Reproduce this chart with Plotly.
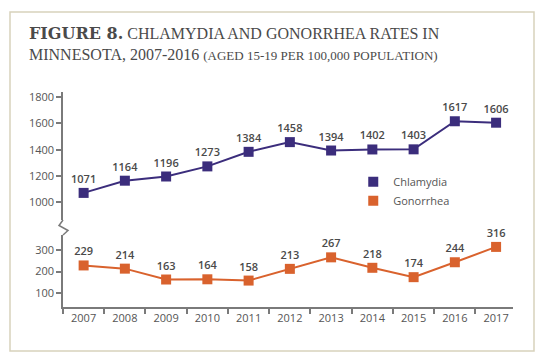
import plotly.graph_objects as go
from plotly.subplots import make_subplots

years = ["2007", "2008", "2009", "2010", "2011", "2012", "2013", "2014", "2015", "2016", "2017"]
chlamydia = [1071, 1164, 1196, 1273, 1384, 1458, 1394, 1402, 1403, 1617, 1606]
gonorrhea = [229, 214, 163, 164, 158, 213, 267, 218, 174, 244, 316]
chl_ticks = [1000, 1200, 1400, 1600, 1800]
gon_ticks = [100, 200, 300]

PURPLE = "#3b2d7c"
ORANGE = "#d9622d"
GRAY = "#555555"
AXIS = "#7a7a7a"
FONT = "Open Sans"

fig = make_subplots(rows=2, cols=1, shared_xaxes=True, vertical_spacing=0.0)

fig.add_trace(go.Scatter(
    x=years, y=chlamydia, mode="lines+markers+text", text=[str(v) for v in chlamydia],
    textposition="top center", textfont=dict(family=FONT, size=11, color="#4a4a4a", weight=600),
    line=dict(color=PURPLE, width=2), marker=dict(symbol="square", size=10, color=PURPLE),
    showlegend=False, cliponaxis=False), row=1, col=1)
fig.add_trace(go.Scatter(
    x=years, y=gonorrhea, mode="lines+markers+text", text=[str(v) for v in gonorrhea],
    textposition="top center", textfont=dict(family=FONT, size=11, color="#4a4a4a", weight=600),
    line=dict(color=ORANGE, width=2), marker=dict(symbol="square", size=10, color=ORANGE),
    showlegend=False, cliponaxis=False), row=2, col=1)

# legend entries
fig.add_trace(go.Scatter(x=[None], y=[None], mode="markers", name="Chlamydia",
                         marker=dict(symbol="square", size=10, color=PURPLE)), row=1, col=1)
fig.add_trace(go.Scatter(x=[None], y=[None], mode="markers", name="Gonorrhea",
                         marker=dict(symbol="square", size=10, color=ORANGE)), row=1, col=1)

tickfont = dict(family=FONT, size=11, color=GRAY)

fig.update_layout(
    width=544, height=362,
    margin=dict(l=63, r=31, t=92, b=55),
    paper_bgcolor="white", plot_bgcolor="white",
    font=dict(family=FONT, color=GRAY),
    showlegend=True,
    legend=dict(x=0.645, y=0.65, xanchor="left", yanchor="top",
                font=dict(family=FONT, size=11, color=GRAY),
                bgcolor="rgba(0,0,0,0)", itemwidth=30, tracegroupgap=0),
    title=dict(
        text="<span style='font-family:DejaVu Serif'><b>FIGURE 8.</b></span> CHLAMYDIA AND GONORRHEA RATES IN<br>"
             "MINNESOTA, 2007-2016 <span style='font-size:13px'>(AGED 15-19 PER 100,000 POPULATION)</span>",
        font=dict(family="Liberation Serif", size=16, color="#4a4a4a"),
        xref="container", yref="container", x=29/544, xanchor="left",
        y=1 - 39/362, yanchor="top"),
)

fig.update_xaxes(type="category", range=[-0.5, 10.41], showgrid=False, zeroline=False)
fig.update_xaxes(row=1, col=1, showline=False, ticks="", showticklabels=False)
fig.update_xaxes(row=2, col=1, showline=True, linecolor=AXIS, linewidth=1.5,
                 ticks="outside", tickson="boundaries", ticklen=5, tickcolor=AXIS, tickwidth=1.5,
                 tickfont=tickfont, showticklabels=True)

fig.update_yaxes(row=1, col=1, domain=[0.405, 1.0], range=[865, 1840], tickvals=chl_ticks,
                 showgrid=False, zeroline=False, showline=True, linecolor=AXIS, linewidth=1.5,
                 ticks="outside", ticklen=5, tickcolor=AXIS, tickwidth=1.5, tickfont=tickfont)
fig.update_yaxes(row=2, col=1, domain=[0.0, 0.335], range=[34, 372], tickvals=gon_ticks,
                 showgrid=False, zeroline=False, showline=True, linecolor=AXIS, linewidth=1.5,
                 ticks="outside", ticklen=5, tickcolor=AXIS, tickwidth=1.5, tickfont=tickfont)

# axis break zigzag (paper coords: x px -> (px-63)/450, y px -> (307-py)/215)
def px(x):
    return (x - 63) / 450
def py(y):
    return (307 - y) / 215
path = "M {} {} L {} {} L {} {} L {} {}".format(
    px(63), py(220), px(59), py(225.5), px(68), py(230.5), px(63), py(235))
fig.add_shape(type="path", path=path, xref="paper", yref="paper",
              line=dict(color=AXIS, width=1.5))

# outer frame
fig.add_shape(type="rect", xref="paper", yref="paper",
              x0=px(10), x1=px(534), y0=py(351), y1=py(12),
              line=dict(color="#d8d2bc", width=1.5), fillcolor="rgba(0,0,0,0)", layer="above")

fig.write_html("out.html", config={"displayModeBar": False},
               post_script="document.body.style.margin='0';document.body.style.padding='0';")
